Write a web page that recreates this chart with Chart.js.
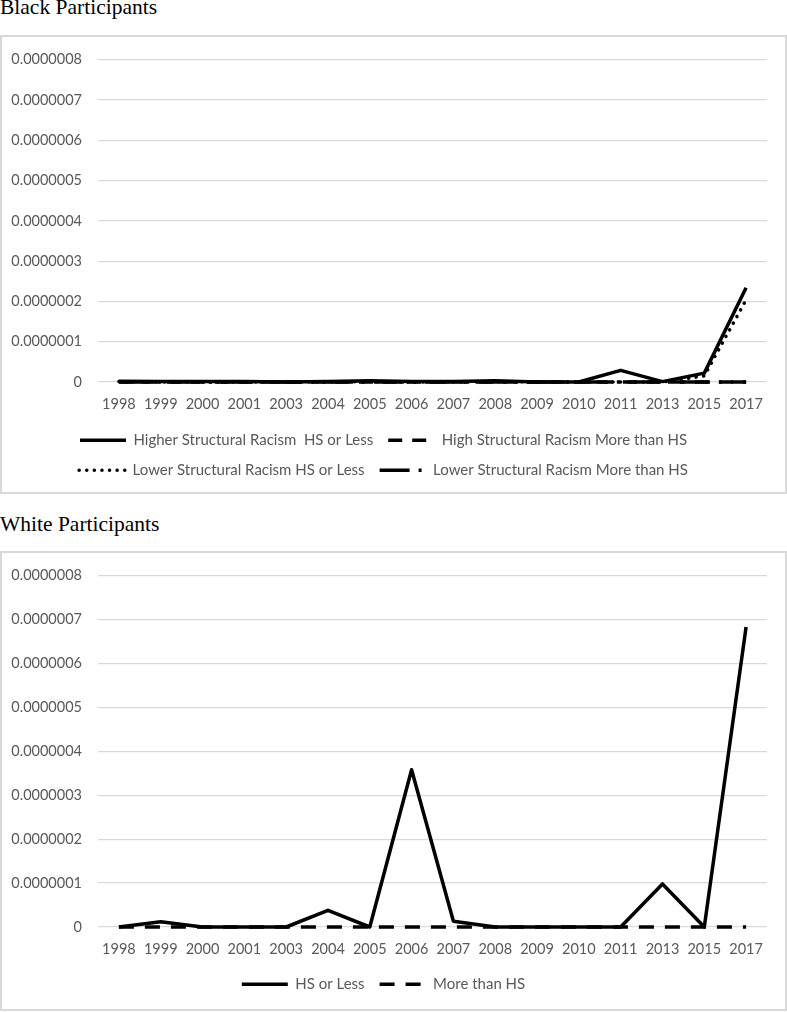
<!DOCTYPE html>
<html>
<head>
<meta charset="utf-8">
<script src="https://cdn.jsdelivr.net/npm/chart.js@4.4.1/dist/chart.umd.min.js"></script>
<style>
  html, body { margin: 0; padding: 0; background: #fff; }
  body { width: 787px; height: 1012px; position: relative; overflow: hidden; }
  .title { position: absolute; left: 0; font-family: "Liberation Serif", "Times New Roman", serif; font-size: 21.5px; line-height: 21.5px; color: #000; white-space: nowrap; }
  .box { position: absolute; left: 0; width: 787px; box-sizing: border-box; border: 2px solid #d9d9d9; pointer-events: none; }
  canvas { position: absolute; left: 0; }
</style>
</head>
<body>
<div class="title" style="top:-3px;">Black Participants</div>
<canvas id="c1" width="787" height="459" style="top:35px;"></canvas>
<div class="box" style="top:35px;height:459px;"></div>

<div class="title" style="top:513.5px;">White Participants</div>
<canvas id="c2" width="787" height="460" style="top:551px;"></canvas>
<div class="box" style="top:551px;height:460px;"></div>

<script>
// ---- data ----
const years = ['1998','1999','2000','2001','2003','2004','2005','2006','2007','2008','2009','2010','2011','2013','2015','2017'];

const blackHigherHSLess  = [2e-9, 1e-9, 1e-9, 1e-9, 0, 1e-9, 3e-9, 1e-9, 1e-9, 3e-9, 0, 0, 2.9e-8, 1e-9, 2.2e-8, 2.34e-7];
const blackHighMoreHS    = [0, 0, 0, 0, 0, 0, 0, 0, 0, 0, 0, 0, 0, 0, 0, 0];
const blackLowerHSLess   = [1e-9, 0, 0, 0, 0, 0, 1e-9, 0, 0, 1e-9, 0, 0, 0, 0, 1.5e-8, 2.04e-7];
const blackLowerMoreHS   = [0, 0, 0, 0, 0, 0, 0, 0, 0, 0, 0, 0, 0, 0, 0, 0];

const whiteHSLess  = [0, 1.2e-8, 0, 0, 0, 3.8e-8, 0, 3.58e-7, 1.3e-8, 0, 0, 0, 0, 9.8e-8, 0, 6.83e-7];
const whiteMoreHS  = [0, 0, 0, 0, 0, 0, 0, 0, 0, 0, 0, 0, 0, 0, 0, 0];

const yTicksMin = 0, yTicksMax = 8e-7, yTicksStep = 1e-7;

// ---- styling ----
const TICK_FONT = { family: 'Lato, "Open Sans", sans-serif', size: 14.5 };
const LEG_FONT = { family: 'Lato, "Open Sans", sans-serif', size: 15 };
const TXT = '#595959';

function ds(label, data, dash, cap) {
  return {
    label, data,
    borderColor: '#000', backgroundColor: '#000',
    borderWidth: 3.5, borderDash: dash, borderCapStyle: cap || 'butt',
    borderJoinStyle: 'round', pointRadius: 0, pointHoverRadius: 0,
    tension: 0, fill: false, clip: false
  };
}

function legendLabels(chart) {
  const items = Chart.defaults.plugins.legend.labels.generateLabels(chart);
  items.forEach(it => {
    const d = chart.data.datasets[it.datasetIndex];
    it.lineDash = d.borderDash;
    it.lineCap = d.borderCapStyle;
    it.lineWidth = d.borderWidth;
    it.strokeStyle = '#000';
    it.fillStyle = '#000';
    it.pointStyle = 'line';
  });
  return items;
}

function makeOptions(p) {
  return {
    responsive: false, animation: false, devicePixelRatio: 1,
    layout: { padding: { top: p.top, right: 20, left: 0, bottom: p.bottom } },
    plugins: {
      tooltip: { enabled: false },
      legend: {
        position: 'bottom',
        labels: {
          usePointStyle: true, pointStyle: 'line', pointStyleWidth: 46,
          font: LEG_FONT, color: TXT, padding: 15,
          generateLabels: legendLabels
        }
      }
    },
    scales: {
      x: {
        offset: true,
        grid: { display: false, drawTicks: false },
        border: { display: false },
        ticks: { font: TICK_FONT, color: TXT, padding: 13.3, maxRotation: 0, autoSkip: false },
        afterFit: s => { s.height = p.xh; }
      },
      y: {
        min: yTicksMin, max: yTicksMax,
        grid: { color: '#d9d9d9', lineWidth: 1.2, drawTicks: false },
        border: { display: false },
        ticks: {
          stepSize: yTicksStep, font: TICK_FONT, color: TXT, padding: 16,
          callback: v => (Math.abs(v) < 1e-12 ? '0' : v.toFixed(7))
        },
        afterFit: s => { s.width = 98; }
      }
    }
  };
}

new Chart(document.getElementById('c1'), {
  type: 'line',
  data: {
    labels: years,
    datasets: [
      ds('Higher Structural Racism  HS or Less', blackHigherHSLess, []),
      ds('High Structural Racism More than HS', blackHighMoreHS, [14, 10]),
      ds('Lower Structural Racism HS or Less', blackLowerHSLess, [0.1, 7.5], 'round'),
      ds('Lower Structural Racism More than HS', blackLowerMoreHS, [30, 9, 3, 9])
    ]
  },
  options: makeOptions({ top: 21.7, bottom: 6.3, xh: 35.7 })
});

new Chart(document.getElementById('c2'), {
  type: 'line',
  data: {
    labels: years,
    datasets: [
      ds('HS or Less', whiteHSLess, []),
      ds('More than HS', whiteMoreHS, [15, 11])
    ]
  },
  options: makeOptions({ top: 21.6, bottom: 9.2, xh: 34.8 })
});
</script>
</body>
</html>
